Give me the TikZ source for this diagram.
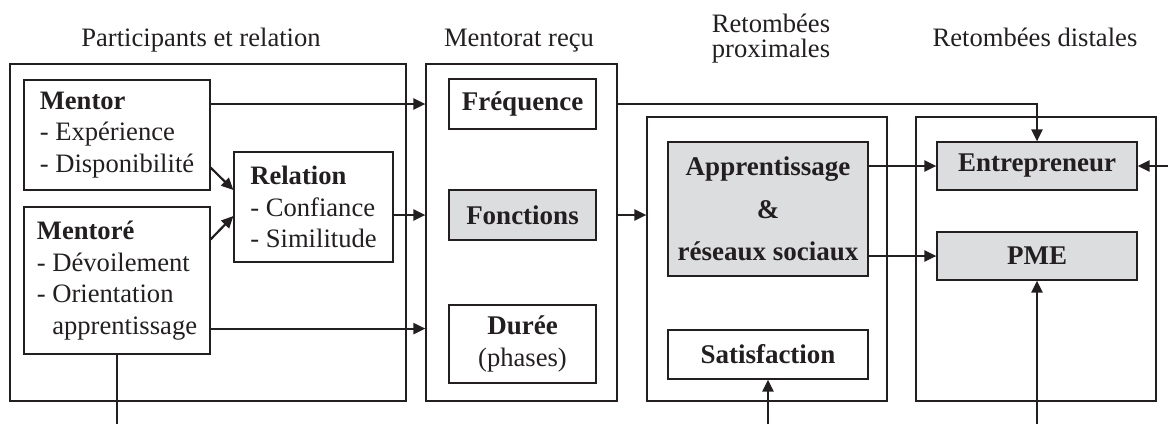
\documentclass[tikz,border=0pt]{standalone}
\usepackage{fontspec}
\setmainfont{Liberation Serif}
\usetikzlibrary{arrows.meta,positioning}
\definecolor{ink}{HTML}{231F20}
\definecolor{boxgrey}{HTML}{DCDDDF}

\begin{document}
\begin{tikzpicture}[x=0.5pt, y=-0.5pt,
	every node/.style={font=\fontsize{13.3}{15.8}\selectfont, text=ink},
	frame/.style={draw=ink, line width=0.6pt, rectangle, inner sep=0pt},
	item/.style={frame, font=\fontsize{13.5}{15.8}\selectfont\bfseries, minimum width=73.5pt, align=center},
	listbox/.style={frame, minimum width=93pt, align=left},
	link/.style={draw=ink, line width=1.1pt},
	arr/.style={link, -{Triangle[length=6pt, width=5.5pt]}}]
	\useasboundingbox (0,0) rectangle (1168,424);
	
	\node[anchor=base](T1) at (201,46){Participants et relation};
	\node[anchor=base](T2) at (519,46){Mentorat reçu};
	\node[anchor=base, align=center, font=\fontsize{13.3}{12.5}\selectfont](T3) at (771,57){Retombées\\proximales};
	\node[anchor=base](T4) at (1035,46){Retombées distales};
	
	\node[frame, minimum width=198pt, minimum height=168.5pt](PART) at (208,232.5){};
	\node[listbox, minimum height=55pt](MENTOR) at (117,135){\textbf{Mentor}\\- Expérience\\- Disponibilité};
	\node[listbox, minimum height=73.5pt, below of=MENTOR, node distance=72.75pt](MENTORE){\textbf{Mentoré}\\- Dévoilement\\- Orientation\\\hspace*{.58em}apprentissage};
	\node[frame, align=left, minimum width=79.5pt, minimum height=55pt](REL) at (313.5,207){\textbf{Relation}\\- Confiance\\- Similitude};
	
	\node[frame, minimum width=95.5pt, minimum height=168.5pt](MENT) at (521.5,232.5){};
	\node[item, minimum height=25pt](FREQ) at (522.5,104){Fréquence};
	\node[item, fill=boxgrey, minimum height=25pt, below of=FREQ, node distance=55.5pt](FONC){Fonctions};
	\node[item, minimum height=39pt, below of=FONC, node distance=64.5pt](DUREE){Durée\\\mdseries\fontsize{13.3}{15.8}\selectfont(phases)};
	
	\node[frame, minimum width=120pt, minimum height=142pt](PROX) at (767,259){};
	\node[item, fill=boxgrey, minimum width=100pt, minimum height=67pt](APP) at (768,209){Apprentissage\\[5.5pt]\&\\[5.5pt]réseaux sociaux};
	\node[item, minimum width=100pt, minimum height=24.5pt, below of=APP, node distance=72.75pt](SAT){Satisfaction};
	
	\node[frame, minimum width=120pt, minimum height=142pt](DIST) at (1036,259){};
	\node[item, fill=boxgrey, minimum width=100pt, minimum height=24pt](ENT) at (1037,166){Entrepreneur};
	\node[item, fill=boxgrey, minimum width=100pt, minimum height=24pt, below of=ENT, node distance=45pt](PME){PME};
	
	\coordinate (BOT) at (0,424);
	\coordinate (RIGHT) at (1168,0);
	
	\draw[arr] (MENTOR.east |- FREQ) -- (MENT.west |- FREQ);
	\draw[arr] ([yshift=11.5pt]MENTOR.south east) -- ([yshift=8.5pt]REL.west);
	\draw[arr] ([yshift=-16.5pt]MENTORE.north east) -- ([yshift=-4.5pt]REL.west);
	\draw[arr] (REL.east |- FONC) -- (MENT.west |- FONC);
	\draw[arr] ([yshift=13pt]MENTORE.south east) -- ([yshift=13pt]MENTORE.south east -| MENT.west);
	\draw[link] (MENTORE.south) -- (MENTORE.south |- BOT);
	
	\draw[arr] (MENT.east |- FONC) -- (PROX.west |- FONC);
	\draw[arr] (MENT.east |- FREQ) -| (ENT.north);
	\draw[arr] (APP.east |- ENT) -- (ENT.west);
	\draw[arr] (APP.east |- PME) -- (PME.west);
	\draw[arr] (ENT.east -| RIGHT) -- (ENT.east);
	\draw[arr] (SAT.south |- BOT) -- (SAT.south);
	\draw[arr] (PME.south |- BOT) -- (PME.south);
\end{tikzpicture}
\end{document}
